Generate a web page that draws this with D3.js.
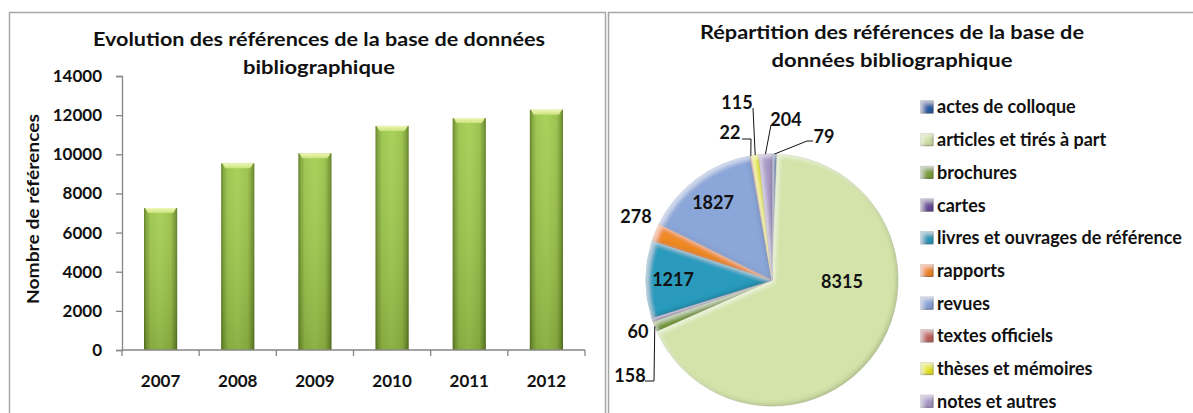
<!DOCTYPE html>
<html>
<head>
<meta charset="utf-8">
<script src="https://cdn.jsdelivr.net/npm/d3@7"></script>
<style>
  html, body { margin: 0; padding: 0; background: #fff; }
  svg { display: block; font-family: Lato, "Open Sans", sans-serif; font-weight: 700; }
</style>
</head>
<body>
<svg id="chart" width="1193" height="413"></svg>
<script>
// ---- data ----
const years = ["2007", "2008", "2009", "2010", "2011", "2012"];
const referenceCounts = [7250, 9540, 10050, 11450, 11850, 12275];
const yTickValues = [0, 2000, 4000, 6000, 8000, 10000, 12000, 14000];

const docTypes = [
  "actes de colloque", "articles et tirés à part", "brochures", "cartes",
  "livres et ouvrages de référence", "rapports", "revues", "textes officiels",
  "thèses et mémoires", "notes et autres"
];
const docCounts = [79, 8315, 158, 60, 1217, 278, 1827, 22, 115, 204];

// ---- setup ----
const svg = d3.select("#chart");
const defs = svg.append("defs");
const textColor = "#111";

// panel frames
svg.append("rect").attr("x", 9.5).attr("y", 12.5).attr("width", 596).attr("height", 430)
  .attr("fill", "none").attr("stroke", "#a6a6a6").attr("stroke-width", 1.5);
svg.append("rect").attr("x", 608.5).attr("y", 12.5).attr("width", 620).attr("height", 430)
  .attr("fill", "none").attr("stroke", "#a6a6a6").attr("stroke-width", 1.5);

// ---- bar chart: evolution per year ----
const barGrad = defs.append("linearGradient").attr("id", "barGrad")
  .attr("x1", 0).attr("x2", 1).attr("y1", 0).attr("y2", 0);
[[0, "#5b7b20"], [0.07, "#7ea135"], [0.2, "#9bc54a"], [0.5, "#a4ce51"],
 [0.8, "#98c047"], [0.93, "#779a30"], [1, "#587820"]]
  .forEach(([o, c]) => barGrad.append("stop").attr("offset", o).attr("stop-color", c));

const barShade = defs.append("linearGradient").attr("id", "barShade")
  .attr("x1", 0).attr("x2", 0).attr("y1", 0).attr("y2", 1);
barShade.append("stop").attr("offset", 0).attr("stop-color", "#fff").attr("stop-opacity", 0.06);
barShade.append("stop").attr("offset", 1).attr("stop-color", "#000").attr("stop-opacity", 0.14);

const capGrad = defs.append("linearGradient").attr("id", "capGrad")
  .attr("x1", 0).attr("x2", 0).attr("y1", 0).attr("y2", 1);
capGrad.append("stop").attr("offset", 0).attr("stop-color", "#eef7b8");
capGrad.append("stop").attr("offset", 1).attr("stop-color", "#c9e27a");

const x = d3.scaleBand().domain(years).range([122, 585]).paddingInner(0.57).paddingOuter(0.285);
const xBounds = d3.scaleBand().domain(years).range([122, 585]);
const y = d3.scaleLinear().domain([0, 14000]).range([350, 76]);

const barG = svg.append("g");
const bars = barG.selectAll("g.bar").data(years.map((yr, i) => ({ yr, v: referenceCounts[i] })))
  .join("g").attr("class", "bar");
bars.append("rect")
  .attr("x", d => x(d.yr)).attr("y", d => y(d.v))
  .attr("width", x.bandwidth()).attr("height", d => y(0) - y(d.v))
  .attr("fill", "url(#barGrad)");
bars.append("rect")
  .attr("x", d => x(d.yr)).attr("y", d => y(d.v))
  .attr("width", x.bandwidth()).attr("height", d => y(0) - y(d.v))
  .attr("fill", "url(#barShade)");
bars.append("path")
  .attr("d", d => {
    const x0 = x(d.yr), w = x.bandwidth(), t = y(d.v);
    return `M${x0 + 1},${t}H${x0 + w - 1}L${x0 + w - 4},${t + 5}H${x0 + 4}Z`;
  })
  .attr("fill", "url(#capGrad)");

// y axis
const yAxis = svg.append("g").attr("transform", "translate(122,0)")
  .call(d3.axisLeft(y).tickValues(yTickValues).tickSize(6).tickPadding(14).tickFormat(d3.format("d")));
yAxis.select(".domain").attr("stroke", "#868686").attr("stroke-width", 1.3);
yAxis.selectAll(".tick line").attr("stroke", "#868686").attr("stroke-width", 1.3);
yAxis.selectAll(".tick text").attr("fill", textColor)
  .style("font-size", "17px").style("font-family", "Lato, sans-serif").style("font-weight", 700);

// x axis with boundary ticks
const xAxis = svg.append("g").attr("transform", "translate(0,350)")
  .call(d3.axisBottom(x).tickSize(0).tickPadding(25));
xAxis.select(".domain").remove();
xAxis.selectAll(".tick text").attr("fill", textColor)
  .style("font-size", "17px").style("font-family", "Lato, sans-serif").style("font-weight", 700);
xAxis.append("line").attr("x1", 122).attr("x2", 585).attr("y1", 0).attr("y2", 0)
  .attr("stroke", "#868686").attr("stroke-width", 1.3);
xAxis.selectAll("line.bound").data(years.map(d => xBounds(d)).concat([585]))
  .join("line").attr("class", "bound")
  .attr("x1", d => d).attr("x2", d => d).attr("y1", 0).attr("y2", 6)
  .attr("stroke", "#868686").attr("stroke-width", 1.3);

// y axis title
svg.append("text")
  .attr("transform", "translate(39,209) rotate(-90)")
  .attr("text-anchor", "middle").attr("fill", textColor)
  .style("font-size", "17px")
  .attr("textLength", 190).attr("lengthAdjust", "spacingAndGlyphs")
  .text("Nombre de références");

// titles
function title(txt, cx, cy, len) {
  svg.append("text").attr("x", cx).attr("y", cy).attr("dy", "0.36em")
    .attr("text-anchor", "middle").attr("fill", textColor)
    .style("font-size", "19.5px")
    .attr("textLength", len).attr("lengthAdjust", "spacingAndGlyphs")
    .text(txt);
}
title("Evolution des références de la base de données", 319, 39, 452);
title("bibliographique", 319, 67, 152);
title("Répartition des références de la base de", 892, 32, 384);
title("données bibliographique", 892, 60, 241);

// ---- pie chart: breakdown by document type ----
const color = d3.scaleOrdinal().domain(docTypes).range([
  "#2a5ea6", "#d3e3a9", "#7ea23a", "#6b4c9c", "#2b9bbd",
  "#ef8a26", "#8ba6d8", "#c26464", "#e9e92a", "#aa9bc9"
]);

// bevel: light inner edge top-left, dark inner edge bottom-right
const bevel = defs.append("filter").attr("id", "bevel")
  .attr("x", "-10%").attr("y", "-10%").attr("width", "120%").attr("height", "120%");
bevel.append("feGaussianBlur").attr("in", "SourceAlpha").attr("stdDeviation", 2.2).attr("result", "blur");
bevel.append("feOffset").attr("in", "blur").attr("dx", -2.5).attr("dy", -2.5).attr("result", "offBR");
bevel.append("feComposite").attr("in", "SourceAlpha").attr("in2", "offBR").attr("operator", "out").attr("result", "edgeBR");
bevel.append("feFlood").attr("flood-color", "#000").attr("flood-opacity", 0.3).attr("result", "dark");
bevel.append("feComposite").attr("in", "dark").attr("in2", "edgeBR").attr("operator", "in").attr("result", "shadowBR");
bevel.append("feOffset").attr("in", "blur").attr("dx", 2.5).attr("dy", 2.5).attr("result", "offTL");
bevel.append("feComposite").attr("in", "SourceAlpha").attr("in2", "offTL").attr("operator", "out").attr("result", "edgeTL");
bevel.append("feFlood").attr("flood-color", "#fff").attr("flood-opacity", 0.55).attr("result", "light");
bevel.append("feComposite").attr("in", "light").attr("in2", "edgeTL").attr("operator", "in").attr("result", "hiTL");
const merge = bevel.append("feMerge");
merge.append("feMergeNode").attr("in", "SourceGraphic");
merge.append("feMergeNode").attr("in", "shadowBR");
merge.append("feMergeNode").attr("in", "hiTL");

const R = 126;
const pieG = svg.append("g").attr("transform", "translate(772,280)");
const pie = d3.pie().sort(null).value(d => d.v);
const arcs = pie(docTypes.map((t, i) => ({ t, v: docCounts[i] })));
const arc = d3.arc().innerRadius(0).outerRadius(R);

pieG.selectAll("path.slice").data(arcs).join("path").attr("class", "slice")
  .attr("d", arc)
  .attr("fill", d => color(d.data.t))
  .attr("stroke", d => d3.color(color(d.data.t)).darker(0.3))
  .attr("stroke-width", 0.6)
  .attr("filter", "url(#bevel)");

// value labels, placed relative to the pie centre
const labelPos = [
  [52, -143], [70, 2], [-142, 96], [-134, 52], [-99, 0],
  [-136, -63], [-59, -77], [-42, -147], [-35, -177], [14, -160]
];
// leader line bends, relative to each label
const leaders = {
  0: [[-17, 4], [-11, 4]],
  9: [[-15, 5]],
  8: [[16, 5]],
  7: [[21, 6], [12, 6]],
  2: [[24, 5], [15, 5]]
};
Object.entries(leaders).forEach(([k, pts]) => {
  const a = arcs[+k];
  const mid = (a.startAngle + a.endAngle) / 2;
  const rim = [R * Math.sin(mid), -R * Math.cos(mid)];
  const [lx, ly] = labelPos[+k];
  const line = [rim].concat(pts.map(([dx, dy]) => [lx + dx, ly + dy]));
  pieG.append("path").attr("d", d3.line()(line))
    .attr("fill", "none").attr("stroke", "#111").attr("stroke-width", 1);
});

pieG.selectAll("text.val").data(arcs).join("text").attr("class", "val")
  .attr("x", (d, i) => labelPos[i][0]).attr("y", (d, i) => labelPos[i][1])
  .attr("dy", "0.36em").attr("text-anchor", "middle").attr("fill", textColor)
  .style("font-size", "18px")
  .text(d => d.data.v);

// legend
const legend = svg.append("g").attr("transform", "translate(921,107)");
const rows = legend.selectAll("g").data(docTypes).join("g")
  .attr("transform", (d, i) => `translate(0,${i * 32.7})`);
rows.append("rect").attr("x", 0).attr("y", -6).attr("width", 12).attr("height", 12)
  .attr("fill", d => color(d))
  .attr("stroke", d => d3.color(color(d)).darker(0.6)).attr("stroke-width", 1)
  .attr("filter", "url(#bevel)");
rows.append("text").attr("x", 16).attr("dy", "0.36em").attr("fill", textColor)
  .style("font-size", "18px")
  .text(d => d);
</script>
</body>
</html>
